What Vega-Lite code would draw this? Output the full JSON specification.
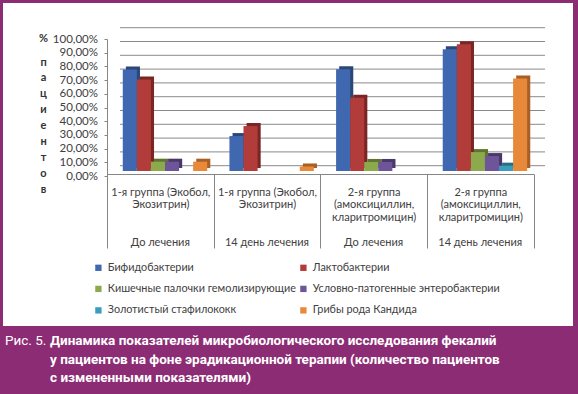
{
  "$schema": "https://vega.github.io/schema/vega-lite/v6.json",
  "background": "#8C2C74",
  "padding": {"left": 3, "top": 3, "right": 5, "bottom": 0},
  "spacing": 0,
  "config": {"view": {"stroke": null}, "font": "Lato"},
  "datasets": {
    "bars": [
      {"cat": "1-я группа (Экобол,|Экозитрин)#До лечения", "series": "Бифидобактерии", "value": 74.1},
      {"cat": "1-я группа (Экобол,|Экозитрин)#До лечения", "series": "Лактобактерии", "value": 66.8},
      {"cat": "1-я группа (Экобол,|Экозитрин)#До лечения", "series": "Кишечные палочки гемолизирующие", "value": 6.8},
      {"cat": "1-я группа (Экобол,|Экозитрин)#До лечения", "series": "Условно-патогенные энтеробактерии", "value": 6.8},
      {"cat": "1-я группа (Экобол,|Экозитрин)#До лечения", "series": "Золотистый стафилококк", "value": 0},
      {"cat": "1-я группа (Экобол,|Экозитрин)#До лечения", "series": "Грибы рода Кандида", "value": 6.8},
      {"cat": "1-я группа (Экобол,|Экозитрин)#14 день лечения", "series": "Бифидобактерии", "value": 25.5},
      {"cat": "1-я группа (Экобол,|Экозитрин)#14 день лечения", "series": "Лактобактерии", "value": 32.8},
      {"cat": "1-я группа (Экобол,|Экозитрин)#14 день лечения", "series": "Кишечные палочки гемолизирующие", "value": 0},
      {"cat": "1-я группа (Экобол,|Экозитрин)#14 день лечения", "series": "Условно-патогенные энтеробактерии", "value": 0},
      {"cat": "1-я группа (Экобол,|Экозитрин)#14 день лечения", "series": "Золотистый стафилококк", "value": 0},
      {"cat": "1-я группа (Экобол,|Экозитрин)#14 день лечения", "series": "Грибы рода Кандида", "value": 3.3},
      {"cat": "2-я группа|(амоксициллин,|кларитромицин)#До лечения", "series": "Бифидобактерии", "value": 74.3},
      {"cat": "2-я группа|(амоксициллин,|кларитромицин)#До лечения", "series": "Лактобактерии", "value": 53.4},
      {"cat": "2-я группа|(амоксициллин,|кларитромицин)#До лечения", "series": "Кишечные палочки гемолизирующие", "value": 6.6},
      {"cat": "2-я группа|(амоксициллин,|кларитромицин)#До лечения", "series": "Условно-патогенные энтеробактерии", "value": 6.6},
      {"cat": "2-я группа|(амоксициллин,|кларитромицин)#До лечения", "series": "Золотистый стафилококк", "value": 0},
      {"cat": "2-я группа|(амоксициллин,|кларитромицин)#До лечения", "series": "Грибы рода Кандида", "value": 0},
      {"cat": "2-я группа|(амоксициллин,|кларитромицин)#14 день лечения", "series": "Бифидобактерии", "value": 88.9},
      {"cat": "2-я группа|(амоксициллин,|кларитромицин)#14 день лечения", "series": "Лактобактерии", "value": 92.6},
      {"cat": "2-я группа|(амоксициллин,|кларитромицин)#14 день лечения", "series": "Кишечные палочки гемолизирующие", "value": 13.8},
      {"cat": "2-я группа|(амоксициллин,|кларитромицин)#14 день лечения", "series": "Условно-патогенные энтеробактерии", "value": 10.9},
      {"cat": "2-я группа|(амоксициллин,|кларитромицин)#14 день лечения", "series": "Золотистый стафилококк", "value": 3.9},
      {"cat": "2-я группа|(амоксициллин,|кларитромицин)#14 день лечения", "series": "Грибы рода Кандида", "value": 67.6}
    ],
    "grid": [
      {"v": 0}, {"v": 10}, {"v": 20}, {"v": 30}, {"v": 40}, {"v": 50},
      {"v": 60}, {"v": 70}, {"v": 80}, {"v": 90}, {"v": 100}
    ],
    "caption": [
      {"part": "num", "line": 1, "text": "Рис. 5."},
      {"part": "body", "line": 1, "text": "Динамика показателей микробиологического исследования фекалий"},
      {"part": "body", "line": 2, "text": "у пациентов на фоне эрадикационной терапии (количество пациентов"},
      {"part": "body", "line": 3, "text": "с измененными показателями)"}
    ]
  },
  "vconcat": [
    {
      "width": 570,
      "height": 323,
      "view": {"fill": "#ffffff", "stroke": null},
      "layer": [
        {
          "data": {"name": "grid"},
          "mark": {"type": "rule", "color": "#8a8a8a", "strokeWidth": 1},
          "encoding": {
            "y": {
              "field": "v", "type": "quantitative", "scale": {"domain": [0, 100], "range": [162.7, 24.7]},
              "axis": {
                "orient": "left", "offset": -104, "labels": false, "ticks": false, "domain": false, "grid": false,
                "title": "%", "titleX": -64, "titleY": 29, "titleAngle": 0, "titleAlign": "center", "titleBaseline": "top",
                "titleFont": "Lato", "titleFontSize": 11, "titleFontWeight": "bold", "titleColor": "#333333"
              }
            },
            "x": {"datum": 0, "type": "quantitative", "scale": {"domain": [0, 1], "range": [117, 542]}, "axis": null},
            "x2": {"datum": 1}
          }
        },
        {
          "data": {"name": "bars"},
          "mark": {"type": "bar", "yOffset": -3, "y2Offset": -3},
          "encoding": {
            "x": {
              "field": "cat", "type": "nominal", "sort": null,
              "scale": {"range": [104, 530.6], "paddingInner": 0, "paddingOuter": 0},
              "axis": {
                "orient": "bottom", "offset": -152, "title": null, "labelAngle": 0,
                "ticks": false, "tickSize": 0, "domain": false, "grid": false,
                "labelPadding": 62, "labelExpr": "split(datum.label, '#')[1]",
                "labelFont": "Lato", "labelFontSize": 11, "labelColor": "#404040", "labelBaseline": "top",
                "labelAlign": "center", "labelLimit": 200, "labelOverlap": false, "labelBound": false
              }
            },
            "xOffset": {"field": "series", "type": "nominal", "sort": ["Бифидобактерии", "Лактобактерии", "Кишечные палочки гемолизирующие", "Условно-патогенные энтеробактерии", "Золотистый стафилококк", "Грибы рода Кандида"], "scale": {"paddingInner": 0, "paddingOuter": 0.79, "align": 0.85}},
            "y": {"field": "value", "type": "quantitative", "scale": {"domain": [0, 100], "range": [168, 31]}, "axis": null},
            "color": {"field": "series", "type": "nominal", "scale": {"domain": ["Бифидобактерии", "Лактобактерии", "Кишечные палочки гемолизирующие", "Условно-патогенные энтеробактерии", "Золотистый стафилококк", "Грибы рода Кандида"], "range": ["#2A4778", "#7A2624", "#5E7530", "#4A386B", "#276E85", "#A85F26"]}, "legend": null}
          }
        },
        {
          "data": {"name": "bars"},
          "mark": {"type": "bar"},
          "encoding": {
            "x": {
              "field": "cat", "type": "nominal", "sort": null,
              "scale": {"range": [104, 530.6], "paddingInner": 0, "paddingOuter": 0},
              "axis": {
                "orient": "bottom", "offset": -152, "title": null, "labelAngle": 0,
                "tickBand": "extent", "tickSize": 74, "tickColor": "#868686", "domainColor": "#868686",
                "labelPadding": -62, "labelExpr": "split(split(datum.label, '#')[0], '|')", "labelLineHeight": 12.6,
                "labelFont": "Lato", "labelFontSize": 11, "labelColor": "#404040", "labelBaseline": "top",
                "labelAlign": "center", "labelLimit": 200, "labelOverlap": false, "labelBound": false, "grid": false
              }
            },
            "xOffset": {"field": "series", "type": "nominal", "sort": ["Бифидобактерии", "Лактобактерии", "Кишечные палочки гемолизирующие", "Условно-патогенные энтеробактерии", "Золотистый стафилококк", "Грибы рода Кандида"], "scale": {"paddingInner": 0, "paddingOuter": 0.79, "align": 0.71}},
            "y": {"field": "value", "type": "quantitative", "scale": {"domain": [0, 100], "range": [168, 31]}, "axis": null},
            "color": {
              "field": "series", "type": "nominal",
              "scale": {"domain": ["Бифидобактерии", "Лактобактерии", "Кишечные палочки гемолизирующие", "Условно-патогенные энтеробактерии", "Золотистый стафилококк", "Грибы рода Кандида"], "range": ["#4068B0", "#B23C39", "#8CAA4C", "#6E559A", "#3A9DBD", "#E8893A"]},
              "legend": {
                "orient": "none", "legendX": 90, "legendY": 259, "columns": 2, "direction": "horizontal", "title": null,
                "symbolType": "square", "symbolSize": 40, "symbolStrokeWidth": 0,
                "labelFont": "Lato", "labelFontSize": 10.8, "labelColor": "#404040", "labelOffset": 4, "labelLimit": 300,
                "columnPadding": 2, "rowPadding": 9.5, "padding": 0
              }
            }
          }
        },
        {
          "data": {"name": "grid"},
          "mark": {"type": "point", "opacity": 0},
          "encoding": {
            "y": {
              "field": "v", "type": "quantitative",
              "scale": {"domain": [0, 100], "range": [173, 36]},
              "axis": {
                "orient": "left", "offset": -104, "values": [0, 10, 20, 30, 40, 50, 60, 70, 80, 90, 100],
                "labelExpr": "replace(format(datum.value, '.2f'), '.', ',') + '%'",
                "tickSize": 3, "tickColor": "#868686", "domainColor": "#868686", "labelPadding": 6.5,
                "labelFont": "Lato", "labelFontSize": 11.5, "labelColor": "#404040", "grid": false,
                "labelFlush": false, "labelOverlap": false,
                "title": ["п", "а", "ц", "и", "е", "н", "т", "о", "в"],
                "titleX": -64, "titleY": 53, "titleAngle": 0, "titleAlign": "center", "titleBaseline": "top",
                "titleFont": "Lato", "titleFontSize": 11, "titleFontWeight": "bold", "titleLineHeight": 15.9, "titleColor": "#333333"
              }
            }
          }
        }
      ],
      "resolve": {
        "scale": {"x": "independent", "y": "independent", "xOffset": "independent", "color": "independent"},
        "axis": {"x": "independent", "y": "independent"},
        "legend": {"color": "independent"}
      }
    },
    {
      "width": 570,
      "height": 68,
      "data": {"name": "caption"},
      "layer": [
        {
          "transform": [{"filter": "datum.part == 'num'"}],
          "mark": {"type": "text", "align": "left", "baseline": "middle", "font": "Roboto", "fontSize": 13.5, "color": "#ffffff"},
          "encoding": {
            "x": {"field": "part", "type": "nominal", "scale": {"type": "point", "domain": ["num", "body"], "range": [2, 47], "padding": 0}, "axis": null},
            "y": {"field": "line", "type": "ordinal", "scale": {"type": "point", "domain": [1, 2, 3], "range": [15, 52], "padding": 0}, "axis": null},
            "text": {"field": "text"}
          }
        },
        {
          "transform": [{"filter": "datum.part == 'body'"}],
          "mark": {"type": "text", "align": "left", "baseline": "middle", "font": "Roboto", "fontSize": 13.5, "fontWeight": "bold", "color": "#ffffff"},
          "encoding": {
            "x": {"field": "part", "type": "nominal", "scale": {"type": "point", "domain": ["num", "body"], "range": [2, 47], "padding": 0}, "axis": null},
            "y": {"field": "line", "type": "ordinal", "scale": {"type": "point", "domain": [1, 2, 3], "range": [15, 52], "padding": 0}, "axis": null},
            "text": {"field": "text"}
          }
        }
      ]
    }
  ]
}
